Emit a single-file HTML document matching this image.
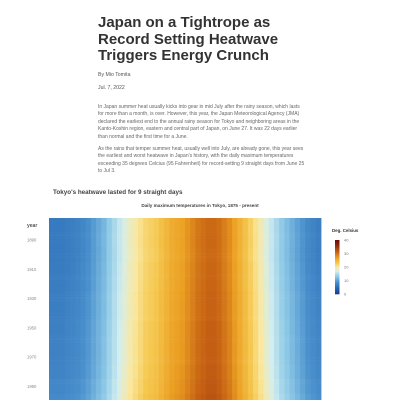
<!DOCTYPE html>
<html><head><meta charset="utf-8"><style>
body{margin:0;width:400px;height:400px;overflow:hidden;background:#fff;font-family:"Liberation Sans",sans-serif;color:#333;position:relative}
.a{position:absolute;margin:0}
h1{font-size:15px;line-height:16.6px;font-weight:bold;left:98px;top:15px;width:200px;color:#333}
.sm{font-size:5.2px;color:#555}
.p{font-size:5px;line-height:7.4px;color:#666;left:98px;width:208px}
</style></head><body>
<h1 class="a">Japan on a Tightrope as Record Setting Heatwave Triggers Energy Crunch</h1>
<div class="a sm" style="left:98px;top:72px">By Mio Tomita</div>
<div class="a sm" style="left:98px;top:85px">Jul. 7, 2022</div>
<p class="a p" style="top:104px">In Japan summer heat usually kicks into gear in mid July after the rainy season, which lasts for more than a month, is over. However, this year, the Japan Meteorological Agency (JMA) declared the earliest end to the annual rainy season for Tokyo and neighboring areas in the Kanto-Koshin region, eastern and central part of Japan, on June 27. It was 22 days earlier than normal and the first time for a June.</p>
<p class="a p" style="top:146px">As the rains that temper summer heat, usually well into July, are already gone, this year sees the earliest and worst heatwave in Japan's history, with the daily maximum temperatures exceeding 35 degrees Celcius (95 Fahrenheit) for record-setting 9 straight days from June 25 to Jul 3.</p>
<div class="a" style="left:53px;top:189px;font-size:6.3px;font-weight:bold;color:#444">Tokyo's heatwave lasted for 9 straight days</div>
<svg class="a" style="left:0;top:0" width="400" height="400" id="chart"></svg>
<script>
const weeklyMax=[7.5,7.5,7.5,7.8,8,8.3,8.8,9.5,10.5,11.5,12.5,14,15.5,17,18.5,19.5,20.5,21.5,22.5,23,23.5,24.5,25.5,26.5,27,27.5,28.5,29.5,30.5,31,31.5,31.5,31,30,29,27.5,26,24.5,23,21.5,20,18.5,17,15.5,14,13,12,11,10,9,8.5,8];
const decadeAnom=[-0.8,-0.7,-0.8,-0.6,-0.5,-0.3,-0.3,-0.1,0,0,0.2,0.5,0.8,1,1.2];
const yearTicks=[1890,1910,1930,1950,1970,1990];
const legendTicks=[0,10,20,30,40];
const NS="http://www.w3.org/2000/svg",svg=document.getElementById('chart');
const X0=49,X1=321,Y0=218,PY=1.465,Y1875=1875;
const x=w=>X0+w*(X1-X0)/weeklyMax.length;
const y=yr=>Y0+(yr-Y1875)*PY;
const stops=[[0,[20,60,140]],[5,[40,105,180]],[9,[75,145,205]],[13,[140,200,230]],[17,[210,238,240]],[20,[250,232,160]],[23,[245,200,80]],[27,[235,160,35]],[31,[200,100,20]],[36,[145,40,10]],[40,[110,10,10]]];
function col(v){v=Math.max(0,Math.min(40,v));for(let i=1;i<stops.length;i++){if(v<=stops[i][0]){const a=stops[i-1],b=stops[i],t=(v-a[0])/(b[0]-a[0]);return 'rgb('+a[1].map((c,k)=>Math.round(c+(b[1][k]-c)*t)).join(',')+')';}}return 'rgb(110,10,10)';}
function el(t,at){const e=document.createElementNS(NS,t);for(const k in at)e.setAttribute(k,at[k]);svg.appendChild(e);return e;}
const g=el('g',{});


for(let yr=1875;yr<=2022;yr++){
  const d=decadeAnom[Math.min(decadeAnom.length-1,Math.floor((yr-1875)/10))];
  if(y(yr)>400)break;
  weeklyMax.forEach((v,w)=>{
    const r=document.createElementNS(NS,'rect');
    r.setAttribute('x',x(w));r.setAttribute('y',y(yr));
    r.setAttribute('width',x(w+1)-x(w)+0.4);r.setAttribute('height',PY+0.3);
    r.setAttribute('fill',col(v+d));
    
    
    g.appendChild(r);
  });
}
svg.appendChild(g);
const st=el('text',{x:200,y:207,'font-size':'4.6','font-weight':'bold','text-anchor':'middle',fill:'#444'});st.textContent='Daily maximum temperatures in Tokyo, 1875 - present';


const yl=el('text',{x:27,y:227,'font-size':'5','font-weight':'bold',fill:'#555'});yl.textContent='year';


yearTicks.forEach(t=>{const e=el('text',{x:27,y:y(t)+1.5,'font-size':'4.2',fill:'#888'});e.textContent=t;

});
const lt=el('text',{x:332,y:232,'font-size':'4.4','font-weight':'bold',fill:'#333'});lt.textContent='Deg. Celsius';


const LT=240,LB=294;const ly=v=>LB-(v/40)*(LB-LT);
for(let v=0;v<40;v+=0.5){const r=el('rect',{x:335,y:ly(v+0.5),width:4.5,height:(LB-LT)/80+0.3,fill:col(v+0.25)});

}
legendTicks.forEach(t=>{const e=el('text',{x:344,y:ly(t)+1.5,'font-size':'4',fill:'#777'});e.textContent=t;

});
</script>
</body></html>
